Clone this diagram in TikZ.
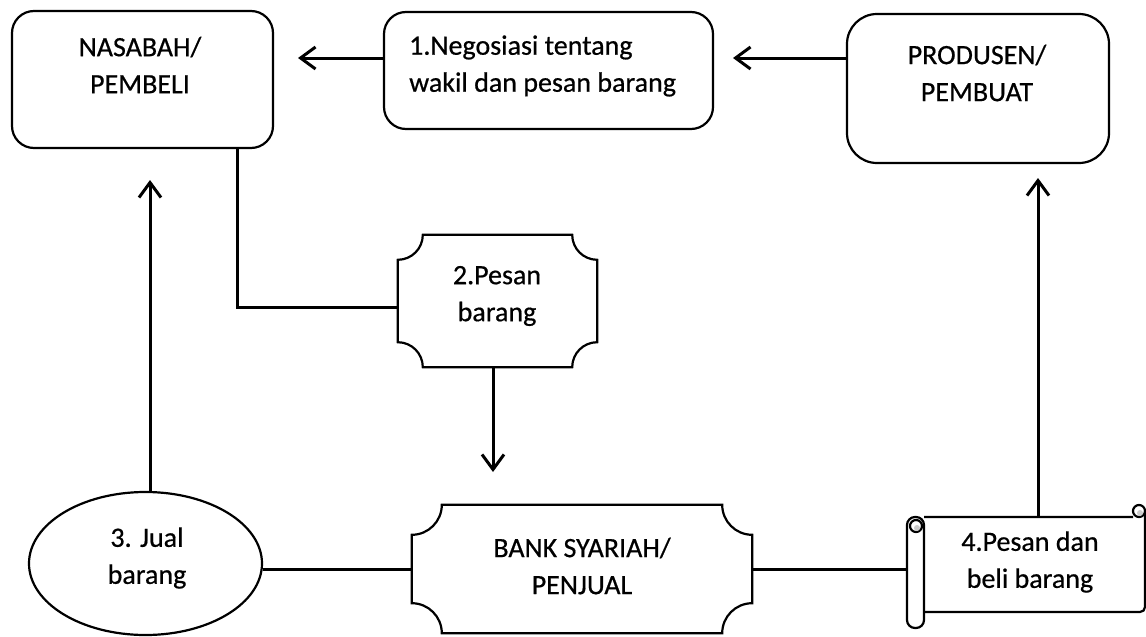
\documentclass[tikz,border=0pt]{standalone}
\usepackage{fontspec}
\setmainfont[FakeBold=0.6]{Carlito}
\usetikzlibrary{arrows.meta,calc,shapes.geometric}
\newcommand\concaverect[2]{%
  \draw[outline] let \p1=(#1.north west), \p2=(#1.south east) in
  ({\x1+#2},\y1) -- ({\x2-#2},\y1)
  .. controls ({\x2-#2},{\y1-0.5523*#2}) and ({\x2-0.5523*#2},{\y1-#2}) .. (\x2,{\y1-#2})
  -- (\x2,{\y2+#2})
  .. controls ({\x2-0.5523*#2},{\y2+#2}) and ({\x2-#2},{\y2+0.5523*#2}) .. ({\x2-#2},\y2)
  -- ({\x1+#2},\y2)
  .. controls ({\x1+#2},{\y2+0.5523*#2}) and ({\x1+0.5523*#2},{\y2+#2}) .. (\x1,{\y2+#2})
  -- (\x1,{\y1-#2})
  .. controls ({\x1+0.5523*#2},{\y1-#2}) and ({\x1+#2},{\y1-0.5523*#2}) .. ({\x1+#2},\y1) -- cycle;}
\begin{document}
\begin{tikzpicture}[x=1pt,y=-1pt,
  outline/.style={draw,line width=2.2pt},
  box/.style={outline,rounded corners=22pt,inner sep=0pt},
  shell/.style={draw=none,inner sep=0pt},
  lbl/.style={align=center,font=\fontsize{28}{37}\selectfont,inner sep=0pt},
  conn/.style={line width=3pt},
  arr/.style={conn,-{Straight Barb[length=15pt,width=22pt]}}]
\useasboundingbox (0,0) rectangle (1146,637);

% boxes
\node[box, minimum width=261pt, minimum height=137pt] (nasabah) at (142.5,79.5) {};
\node[box, rounded corners=22pt, minimum width=329pt, minimum height=117pt] (nego) at (548.5,70.5) {};
\node[box, rounded corners=30pt, minimum width=262pt, minimum height=149pt] (produsen) at (978,88.5) {};
\node[shell, minimum width=199pt, minimum height=132pt] (pesan) at (497.5,301) {};
\concaverect{pesan}{25}
\node[shell, minimum width=340pt, minimum height=128pt] (bank) at (582,569) {};
\concaverect{bank}{30}
\node[ellipse, outline, inner sep=0pt, minimum width=233pt, minimum height=143pt] (jual) at (145.5,563.5) {};
\node[shell, minimum width=238pt, minimum height=111pt] (scroll) at (1026,572.5) {};
% scroll decoration
\draw[outline, rounded corners=5pt] (1133,517) -- (924,517) (924,612) -- (1145,612) -- (1145,512);
\draw[outline, fill=white] (1139,511) circle (6pt);
\fill[gray!40] (1140,513) circle (3pt);
\draw[outline, fill=white, rounded corners=8pt] (907,517) rectangle (924,628);
\draw[outline, fill=white] (916,526) circle (6pt);
\fill[gray!40] (917,528) circle (3pt);

% labels
\node[lbl] (nasabahT) at (140,65) {NASABAH/\\PEMBELI};
\node[lbl, align=left, anchor=west] (negoT) at (409,66) {1.Negosiasi tentang\\wakil dan pesan barang};
\node[lbl] (produsenT) at (977,73) {PRODUSEN/\\PEMBUAT};
\node[lbl] (pesanT) at (497,296) {2.Pesan\\barang};
\node[lbl] (bankT) at (582,566) {BANK SYARIAH/\\PENJUAL};
\node[lbl] (jualT) at (147,558) {3. Jual\\barang};
\node[lbl] (scrollT) at (1030,562) {4.Pesan dan\\beli barang};

% connectors
\coordinate (a1) at (298,58);
\draw[arr] (nego.west |- a1) -- (a1);
\coordinate (a2) at (733,58);
\draw[arr] (produsen.west |- a2) -- (a2);
\coordinate (c1) at (237,307);
\draw[conn] (nasabah.south -| c1) -- (c1) -- (pesan.west |- c1);
\coordinate (a3) at (493,472);
\draw[arr] (pesan.south -| a3) -- (a3);
\coordinate (a4) at (150,180);
\draw[arr] (a4 |- jual.north) -- (a4);
\draw[conn] (jual.east |- bank.west) -- (bank.west);
\draw[conn] (bank.east) -- (scroll.west |- bank.east);
\coordinate (a5) at (1038,178);
\draw[arr] (scroll.north -| a5) -- (a5);
\end{tikzpicture}
\end{document}
